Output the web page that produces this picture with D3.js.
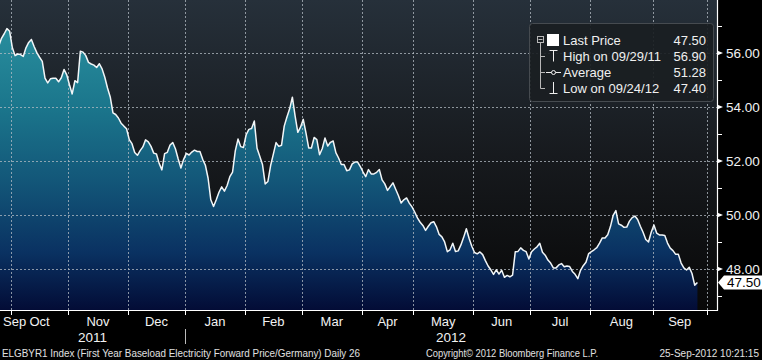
<!DOCTYPE html>
<html><head><meta charset="utf-8">
<script src="https://cdn.jsdelivr.net/npm/d3@7"></script>
<style>html,body{margin:0;padding:0;background:#000;overflow:hidden;} svg{display:block;}</style>
</head><body>
<svg id="chart" width="762" height="360"></svg>
<script>
// ---------------- DATA ----------------
const startDate = "2011-09-26";
const holidays = ["2011-12-26", "2012-04-06", "2012-04-09", "2012-05-01"];
const values = [
  56.26, 56.54, 56.71, 56.90, 56.80, 56.19, 55.90, 55.96, 55.94, 55.87,
  56.19, 56.39, 56.50, 56.24, 56.01, 55.84, 55.69, 55.07, 54.89, 55.04,
  55.06, 55.06, 54.93, 55.08, 55.39, 55.19, 54.82, 54.48, 54.97, 54.90,
  56.06, 56.03, 55.90, 55.65, 55.59, 55.55, 55.46, 55.60, 55.41, 55.10,
  54.70, 54.37, 53.78, 53.72, 53.59, 53.40, 53.29, 53.19, 52.79, 52.64,
  52.31, 52.21, 52.38, 52.52, 52.78, 52.71, 52.54, 52.29, 52.26, 51.91,
  51.67, 52.27, 52.32, 52.59, 52.68, 52.44, 52.07, 51.74, 52.06, 52.28,
  52.22, 52.33, 52.40, 52.35, 52.35, 52.06, 51.84, 51.36, 50.56, 50.31,
  50.56, 50.84, 51.04, 50.88, 51.09, 51.42, 51.59, 52.37, 52.81, 52.53,
  52.50, 52.97, 53.17, 53.20, 53.48, 52.47, 52.17, 51.87, 51.15, 51.24,
  51.83, 52.25, 52.68, 52.54, 52.58, 53.29, 53.63, 53.93, 54.36, 53.67,
  53.06, 53.25, 53.54, 53.04, 52.48, 52.48, 52.87, 52.79, 52.23, 52.46,
  52.85, 52.55, 52.69, 52.74, 52.31, 52.11, 51.87, 51.87, 51.64, 51.67,
  51.89, 51.96, 51.96, 51.79, 51.59, 51.42, 51.68, 51.52, 51.52, 51.58,
  51.68, 51.30, 51.15, 50.91, 51.05, 51.19, 50.95, 50.72, 50.44, 50.56,
  50.63, 50.44, 50.30, 50.11, 49.89, 49.73, 49.61, 49.43, 49.58, 49.71,
  49.75, 49.56, 49.28, 49.19, 49.00, 48.64, 48.71, 48.95, 48.65, 48.67,
  48.89, 49.17, 49.49, 49.14, 48.84, 48.61, 48.56, 48.63, 48.53, 48.31,
  48.11, 47.97, 47.80, 47.97, 47.81, 47.95, 47.69, 47.76, 47.71, 47.77,
  48.64, 48.65, 48.78, 48.69, 48.64, 48.37, 48.64, 48.74, 48.82, 48.95,
  48.62, 48.51, 48.33, 48.22, 48.04, 48.04, 48.15, 48.20, 48.08, 48.11,
  48.09, 47.91, 47.80, 47.64, 47.95, 48.12, 48.25, 48.57, 48.64, 48.71,
  48.79, 48.96, 49.15, 49.15, 49.27, 49.57, 49.98, 50.16, 49.67, 49.62,
  49.54, 49.55, 49.77, 49.90, 49.96, 49.83, 49.58, 49.36, 49.09, 49.00,
  49.36, 49.63, 49.33, 49.26, 49.26, 49.24, 48.96, 48.77, 48.68, 48.54,
  48.54, 48.22, 48.04, 47.96, 48.06, 47.83, 47.40, 47.50
];
const monthNames = ["Jan","Feb","Mar","Apr","May","Jun","Jul","Aug","Sep","Oct","Nov","Dec"];
const yMajorTicks = [48, 50, 52, 54, 56];
const yMinorTicks = [47, 49, 51, 53, 55, 57];
const legendLabels = ["Last Price", "High on 09/29/11", "Average", "Low on 09/24/12"];
const legendValues = ["47.50", "56.90", "51.28", "47.40"];
const footerLeft = "ELGBYR1 Index (First Year Baseload Electricity Forward Price/Germany)  Daily 26";
const footerMid = "Copyright\u00A9 2012 Bloomberg Finance L.P.";
const footerRight = "25-Sep-2012 10:21:15";

// ---------------- LAYOUT ----------------
const W = 762, H = 360;
const plot = {left: 0, right: 717, top: 0, bottom: 310};
const FONT = "'Liberation Sans', Arial, sans-serif";

// trading dates (weekdays minus holidays)
const parse = d3.utcParse("%Y-%m-%d");
const fmt = d3.utcFormat("%Y-%m-%d");
const holidaySet = new Set(holidays);
const dates = [];
let d = parse(startDate);
while (dates.length < values.length + 10) {
  const wd = d.getUTCDay();
  if (wd !== 0 && wd !== 6 && !holidaySet.has(fmt(d))) dates.push(d);
  d = d3.utcDay.offset(d, 1);
}
const data = values.map((v, i) => ({i, date: dates[i], v}));

const x = d3.scaleLinear().domain([0.45, 264.2]).range([plot.left, plot.right]);
const y = d3.scaleLinear().domain([46.48, 57.96]).range([plot.bottom, plot.top]);

const svg = d3.select("#chart");
svg.append("rect").attr("width", W).attr("height", H).attr("fill", "#000");

const defs = svg.append("defs");
const bg = defs.append("linearGradient").attr("id", "bgGrad")
  .attr("gradientUnits", "userSpaceOnUse").attr("x1", 0).attr("y1", plot.top).attr("x2", 0).attr("y2", plot.bottom);
bg.append("stop").attr("offset", 0).attr("stop-color", "#26303a");
bg.append("stop").attr("offset", 0.5).attr("stop-color", "#171a1e");
bg.append("stop").attr("offset", 1).attr("stop-color", "#080808");

const ag = defs.append("linearGradient").attr("id", "areaGrad")
  .attr("gradientUnits", "userSpaceOnUse").attr("x1", 0).attr("y1", 20).attr("x2", 0).attr("y2", plot.bottom);
ag.append("stop").attr("offset", 0).attr("stop-color", "#2a909f");
ag.append("stop").attr("offset", 0.3).attr("stop-color", "#1b768c");
ag.append("stop").attr("offset", 0.55).attr("stop-color", "#135779");
ag.append("stop").attr("offset", 0.8).attr("stop-color", "#0a3262");
ag.append("stop").attr("offset", 1).attr("stop-color", "#030c36");

defs.append("clipPath").attr("id", "plotClip").append("rect")
  .attr("x", plot.left).attr("y", plot.top).attr("width", plot.right - plot.left).attr("height", plot.bottom - plot.top);

svg.append("rect").attr("x", plot.left).attr("y", plot.top)
  .attr("width", plot.right - plot.left).attr("height", plot.bottom - plot.top).attr("fill", "url(#bgGrad)");

const g = svg.append("g").attr("clip-path", "url(#plotClip)");

const area = d3.area().x(p => x(p.i)).y0(plot.bottom).y1(p => y(p.v)).curve(d3.curveLinear);
const line = d3.line().x(p => x(p.i)).y(p => y(p.v)).curve(d3.curveLinear);

g.append("path").datum(data).attr("d", area).attr("fill", "url(#areaGrad)");

// month boundaries
const boundaries = [];
for (let i = 1; i < dates.length; i++) {
  if (dates[i].getUTCMonth() !== dates[i - 1].getUTCMonth()) {
    const b = i - 0.5;
    if (b <= x.domain()[1]) boundaries.push({b, month: dates[i].getUTCMonth(), year: dates[i].getUTCFullYear()});
  }
}

// grid
const gridColor = "#b4bcc4";
g.selectAll(".vgrid").data(boundaries).join("line")
  .attr("x1", p => Math.round(x(p.b)) + 0.5).attr("x2", p => Math.round(x(p.b)) + 0.5)
  .attr("y1", plot.top).attr("y2", plot.bottom)
  .attr("stroke", gridColor).attr("stroke-opacity", 0.75).attr("stroke-dasharray", "2,2");
g.selectAll(".hgrid").data(yMajorTicks).join("line")
  .attr("x1", plot.left).attr("x2", plot.right)
  .attr("y1", v => Math.round(y(v)) + 0.5).attr("y2", v => Math.round(y(v)) + 0.5)
  .attr("stroke", gridColor).attr("stroke-opacity", 0.75).attr("stroke-dasharray", "2,2");

g.append("path").datum(data).attr("d", line).attr("fill", "none")
  .attr("stroke", "#f2f6f8").attr("stroke-width", 1.5).attr("stroke-linejoin", "round");

// axes lines
svg.append("line").attr("x1", plot.right + 0.5).attr("x2", plot.right + 0.5).attr("y1", 0).attr("y2", plot.bottom + 1)
  .attr("stroke", "#fff").attr("stroke-width", 1.2);
svg.append("line").attr("x1", 0).attr("x2", plot.right + 1).attr("y1", plot.bottom + 0.5).attr("y2", plot.bottom + 0.5)
  .attr("stroke", "#fff").attr("stroke-width", 1.2);

// right axis
svg.selectAll(".minorTick").data(yMinorTicks).join("line")
  .attr("x1", plot.right).attr("x2", plot.right + 5)
  .attr("y1", v => Math.round(y(v)) + 0.5).attr("y2", v => Math.round(y(v)) + 0.5)
  .attr("stroke", "#fff");
svg.selectAll(".majorTick").data(yMajorTicks).join("path")
  .attr("d", v => { const yy = y(v); return `M${plot.right},${yy - 2.5}L${plot.right + 6},${yy}L${plot.right},${yy + 2.5}Z`; })
  .attr("fill", "#fff");
svg.selectAll(".yLabel").data(yMajorTicks).join("text")
  .attr("x", plot.right + 9).attr("y", v => y(v) + 5)
  .attr("fill", "#f2f2f2").attr("font-family", FONT).attr("font-size", 13.5)
  .text(v => d3.format(".2f")(v));

// last price tag
const last = values[values.length - 1];
const ly = y(last);
svg.append("path")
  .attr("d", `M${plot.right + 1},${ly}L${plot.right + 7},${ly - 7}L${W},${ly - 7}L${W},${ly + 7}L${plot.right + 7},${ly + 7}Z`)
  .attr("fill", "#fff");
svg.append("text").attr("x", plot.right + 10).attr("y", ly + 5)
  .attr("fill", "#000").attr("font-family", FONT).attr("font-size", 13.5).text(d3.format(".2f")(last));

// bottom axis ticks
svg.selectAll(".xTick").data(boundaries).join("line")
  .attr("x1", p => Math.round(x(p.b)) + 0.5).attr("x2", p => Math.round(x(p.b)) + 0.5)
  .attr("y1", plot.bottom).attr("y2", plot.bottom + 5).attr("stroke", "#fff");

// month labels
const edges = [x.domain()[0], ...boundaries.map(p => p.b), x.domain()[1]];
const segs = [];
for (let k = 0; k < edges.length - 1; k++) {
  const a = edges[k], b = edges[k + 1];
  const firstIdx = Math.ceil(a);
  if (firstIdx >= values.length) continue;
  segs.push({a, b, month: dates[firstIdx].getUTCMonth(), year: dates[firstIdx].getUTCFullYear()});
}
const mLabels = svg.selectAll(".mLabel").data(segs).join("text")
  .attr("fill", "#f2f2f2").attr("font-family", FONT).attr("font-size", 13)
  .attr("text-anchor", "middle").attr("y", 326)
  .text(s => monthNames[s.month]);
mLabels.each(function(s) {
  const w = this.getComputedTextLength();
  let cx = (x(s.a) + x(s.b)) / 2;
  if (cx - w / 2 < 3) cx = 3 + w / 2;
  d3.select(this).attr("x", cx);
});

// year labels
const years = Array.from(new Set(segs.map(s => s.year)));
const yearSegs = years.map(yr => {
  const ss = segs.filter(s => s.year === yr);
  const a = yr === years[0] ? 0 : x(ss[0].a);
  const b = yr === years[years.length - 1] ? plot.right : x(ss[ss.length - 1].b);
  return {yr, a, b};
});
svg.selectAll(".yrLabel").data(yearSegs).join("text")
  .attr("x", s => (s.a + s.b) / 2).attr("y", 342)
  .attr("fill", "#f2f2f2").attr("font-family", FONT).attr("font-size", 13.5)
  .attr("text-anchor", "middle").text(s => s.yr);
svg.selectAll(".yrSep").data(yearSegs.slice(1)).join("line")
  .attr("x1", s => Math.round(s.a) + 0.5).attr("x2", s => Math.round(s.a) + 0.5)
  .attr("y1", 329).attr("y2", 344).attr("stroke", "#bbb");

// footer
svg.append("text").attr("x", 2).attr("y", 357)
  .attr("fill", "#e0e0e0").attr("font-family", FONT).attr("font-size", 10.5)
  .attr("textLength", 358).attr("lengthAdjust", "spacingAndGlyphs").text(footerLeft);
svg.append("text").attr("x", 426).attr("y", 357)
  .attr("fill", "#e0e0e0").attr("font-family", FONT).attr("font-size", 10.5)
  .attr("textLength", 172).attr("lengthAdjust", "spacingAndGlyphs").text(footerMid);
svg.append("text").attr("x", 759).attr("y", 357).attr("text-anchor", "end")
  .attr("fill", "#e0e0e0").attr("font-family", FONT).attr("font-size", 10).text(footerRight);

// legend
const LF = 13;
const lg = svg.append("g");
lg.append("rect").attr("x", 529.5).attr("y", 23.5).attr("width", 184).attr("height", 78).attr("rx", 3)
  .attr("fill", "#1a1e22").attr("fill-opacity", 0.92).attr("stroke", "#464b50");
const rowY = legendLabels.map((_, k) => 40 + k * 16);
lg.selectAll(".lgLabel").data(legendLabels).join("text")
  .attr("x", 563).attr("y", (_, k) => rowY[k] + 5)
  .attr("fill", "#f0f0f0").attr("font-family", FONT).attr("font-size", LF).text(t => t);
lg.selectAll(".lgVal").data(legendValues).join("text")
  .attr("x", 706).attr("y", (_, k) => rowY[k] + 5).attr("text-anchor", "end")
  .attr("fill", "#f0f0f0").attr("font-family", FONT).attr("font-size", LF).text(t => t);
// tree
const tc = "#b8b8b8";
lg.append("rect").attr("x", 537.5).attr("y", 36.5).attr("width", 6).attr("height", 6).attr("fill", "none").attr("stroke", tc);
lg.append("line").attr("x1", 538.5).attr("x2", 542.5).attr("y1", 39.5).attr("y2", 39.5).attr("stroke", tc);
lg.append("line").attr("x1", 540.5).attr("x2", 540.5).attr("y1", 43).attr("y2", rowY[3] + 0.5).attr("stroke", tc);
lg.selectAll(".branch").data(rowY.slice(1)).join("line")
  .attr("x1", 540.5).attr("x2", 545).attr("y1", yy => yy + 0.5).attr("y2", yy => yy + 0.5).attr("stroke", tc);
// icons
lg.append("rect").attr("x", 547).attr("y", rowY[0] - 6).attr("width", 12).attr("height", 12).attr("fill", "#fff");
lg.append("path").attr("d", `M549.5,${rowY[1] - 5.5}H557.5M553.5,${rowY[1] - 5.5}V${rowY[1] + 5.5}`).attr("stroke", "#eee").attr("fill", "none");
lg.append("path").attr("d", `M546,${rowY[2] + 0.5}H561`).attr("stroke", "#eee");
lg.append("circle").attr("cx", 553.5).attr("cy", rowY[2] + 0.5).attr("r", 2).attr("fill", "#1a1e22").attr("stroke", "#eee");
lg.append("path").attr("d", `M553.5,${rowY[3] - 6}V${rowY[3] + 5.5}M549.5,${rowY[3] + 5.5}H557.5`).attr("stroke", "#eee").attr("fill", "none");
</script>
</body></html>
